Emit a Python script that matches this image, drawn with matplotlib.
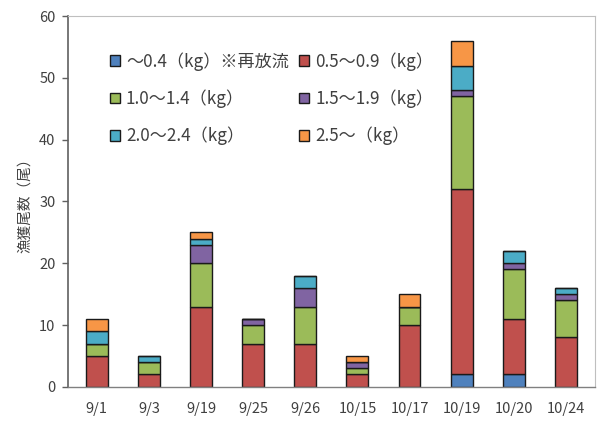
import matplotlib
matplotlib.use("Agg")
import matplotlib.pyplot as plt
import numpy as np

plt.rcParams['font.family'] = ['Noto Sans CJK JP', 'DejaVu Sans']

dates = ['9/1', '9/3', '9/19', '9/25', '9/26', '10/15', '10/17', '10/19', '10/20', '10/24']

# catch counts per weight class (fish)
w_00_04 = [0, 0, 0, 0, 0, 0, 0, 2, 2, 0]
w_05_09 = [5, 2, 13, 7, 7, 2, 10, 30, 9, 8]
w_10_14 = [2, 2, 7, 3, 6, 1, 3, 15, 8, 6]
w_15_19 = [0, 0, 3, 1, 3, 1, 0, 1, 1, 1]
w_20_24 = [2, 1, 1, 0, 2, 0, 0, 4, 2, 1]
w_25_up = [2, 0, 1, 0, 0, 1, 2, 4, 0, 0]

series = [w_00_04, w_05_09, w_10_14, w_15_19, w_20_24, w_25_up]
labels = ['～0.4（kg）※再放流', '0.5～0.9（kg）', '1.0～1.4（kg）',
          '1.5～1.9（kg）', '2.0～2.4（kg）', '2.5～（kg）']
colors = ['#4F81BD', '#C0504D', '#9BBB59', '#8064A2', '#4BACC6', '#F79646']

fig = plt.figure(figsize=(5.97, 4.26), dpi=100)
ax = fig.add_axes([0.114, 0.092, 0.882, 0.870])

x = np.arange(len(dates))
bottom = np.zeros(len(dates))
handles = []
for vals, lab, col in zip(series, labels, colors):
    vals = np.array(vals, dtype=float)
    b = ax.bar(x, vals, width=0.42, bottom=bottom, color=col,
               edgecolor='#1a1a1a', linewidth=1.0, label=lab)
    handles.append(b)
    bottom += vals

ax.set_xlim(-0.55, 9.55)
ax.set_ylim(0, 60)
ax.set_yticks(range(0, 61, 10))
ax.set_xticks(x)
ax.set_xticklabels(dates)
ax.tick_params(axis='x', length=0, pad=11, labelsize=10.5, colors='#404040')
ax.tick_params(axis='y', length=4, width=1, direction='out', pad=5,
               labelsize=10.5, colors='#606060', labelcolor='#404040')

for side in ['top', 'right']:
    ax.spines[side].set_color('#bfbfbf')
    ax.spines[side].set_linewidth(0.8)
ax.spines['left'].set_color('#606060')
ax.spines['left'].set_linewidth(1.2)
ax.spines['bottom'].set_color('#808080')
ax.spines['bottom'].set_linewidth(1.0)

ax.set_ylabel('漁獲尾数（尾）', fontsize=10.5, color='#404040', labelpad=5)

# legend fills row by row: two classes per line
order = [0, 2, 4, 1, 3, 5]
ax.legend([handles[i] for i in order], [labels[i] for i in order],
          ncol=2, frameon=False, loc='upper left',
          bbox_to_anchor=(0.05, 0.945), fontsize=12.3,
          handlelength=0.6, handleheight=0.6, handletextpad=0.35,
          labelspacing=1.1, columnspacing=0.6, labelcolor='#404040')

fig.savefig('out.png', dpi=100)
